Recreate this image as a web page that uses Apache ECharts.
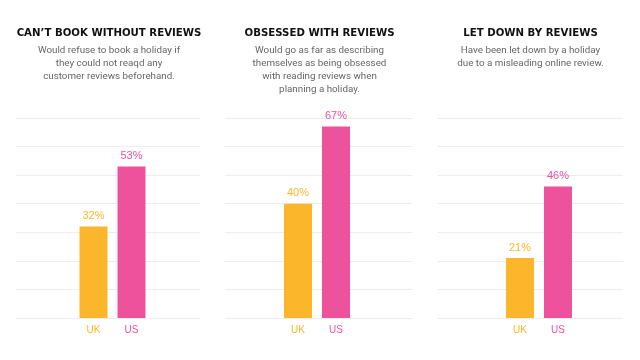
<!DOCTYPE html>
<html><head><meta charset="utf-8">
<script src="https://cdn.jsdelivr.net/npm/echarts@6/dist/echarts.min.js"></script>
<style>html,body{margin:0;padding:0;background:#fff}#c{width:640px;height:360px}</style>
</head><body><div id="c"></div>
<script>
const categories = ['UK', 'US'];
const titles = ['CAN’T BOOK WITHOUT REVIEWS', 'OBSESSED WITH REVIEWS', 'LET DOWN BY REVIEWS'];
const subtitles = [
  'Would refuse to book a holiday if\nthey could not reaqd any\ncustomer reviews beforehand.',
  'Would go as far as describing\nthemselves as being obsessed\nwith reading reviews when\nplanning a holiday.',
  'Have been let down by a holiday\ndue to a misleading online review.'
];
const ukValues = [32, 40, 21];
const usValues = [53, 67, 46];
const yMin = 0, yMax = 70, yInterval = 10;

const colors = ['#FBB62B', '#EF529C'];
const panelGrid = [{left: 16, width: 184, c: 109}, {left: 225, width: 187, c: 319.5}, {left: 438, width: 185, c: 530.5}];
const barGrid = [{left: 74.5}, {left: 279}, {left: 501}];

const grids = [], xAxes = [], yAxes = [], series = [], titleOpts = [];
for (let p = 0; p < 3; p++) {
  grids.push({left: panelGrid[p].left, width: panelGrid[p].width, top: 118, bottom: 42});
  xAxes.push({type: 'category', gridIndex: grids.length - 1, data: [''], show: false});
  yAxes.push({type: 'value', gridIndex: grids.length - 1, min: yMin, max: yMax, interval: yInterval,
    axisLabel: {show: false}, axisLine: {show: false}, axisTick: {show: false},
    splitLine: {lineStyle: {color: '#ececec', width: 1}}});
  grids.push({left: barGrid[p].left, width: 76, top: 118, bottom: 42});
  const gi = grids.length - 1;
  xAxes.push({type: 'category', gridIndex: gi, data: categories,
    axisLine: {show: false}, axisTick: {show: false},
    axisLabel: {margin: 7, fontSize: 10, fontFamily: 'Liberation Sans',
      color: function (v, i) { return colors[i]; }}});
  yAxes.push({type: 'value', gridIndex: gi, min: yMin, max: yMax, interval: yInterval, show: false, splitLine: {show: false}});
  series.push({type: 'bar', xAxisIndex: gi, yAxisIndex: gi, barWidth: 28,
    data: [ukValues[p], usValues[p]].map((v, i) => ({value: v, itemStyle: {color: colors[i]},
      label: {color: colors[i]}})),
    label: {show: true, position: 'top', distance: 5, fontSize: 11, fontFamily: 'Liberation Sans',
      formatter: '{c}%'}
  });
  titleOpts.push({text: titles[p], subtext: subtitles[p], left: panelGrid[p].c - 5, top: 23, textAlign: 'center',
    itemGap: 6,
    textStyle: {fontFamily: 'DejaVu Sans', fontWeight: 'bold', fontSize: 10.2, color: '#111'},
    subtextStyle: {fontFamily: 'Roboto', fontSize: 9.8, color: '#666', lineHeight: 13, align: 'center'}});
}

const chart = echarts.init(document.getElementById('c'), null, {renderer: 'canvas'});
chart.setOption({animation: false, title: titleOpts, grid: grids, xAxis: xAxes, yAxis: yAxes, series: series});
</script></body></html>
